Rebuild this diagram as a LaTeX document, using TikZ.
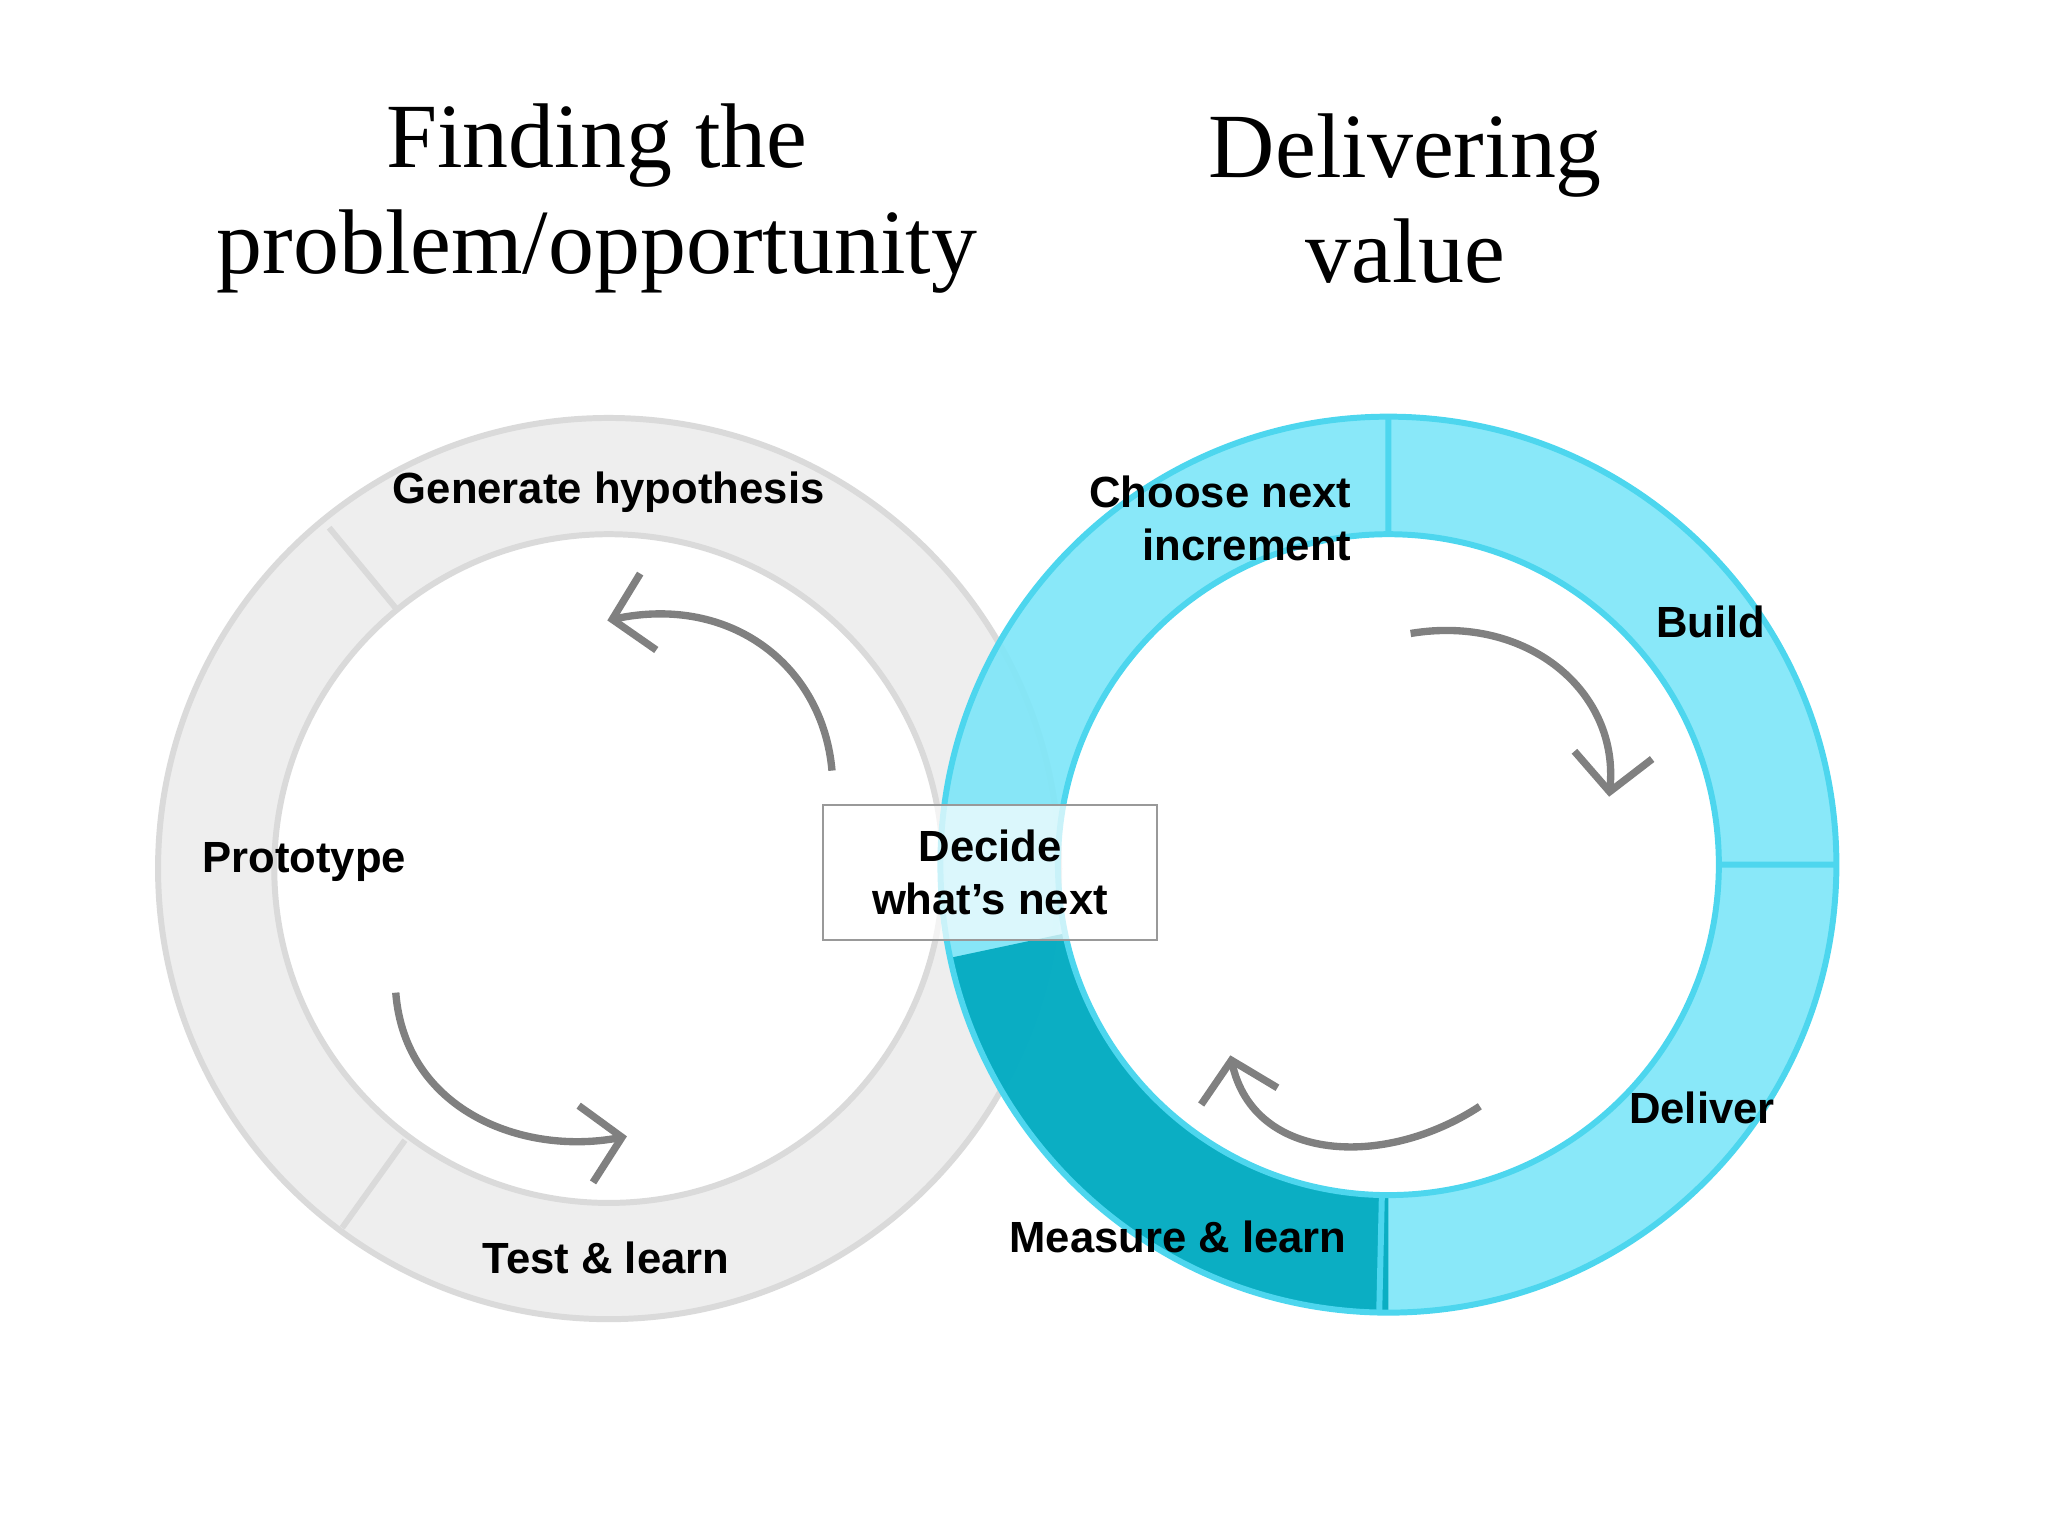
\documentclass[tikz,border=0pt]{standalone}
\usepackage{fontspec}
\setmainfont{Liberation Serif}
\newfontfamily\lab{Liberation Sans}
\usetikzlibrary{arrows.meta}
\definecolor{gfill}{HTML}{EEEEEE}
\definecolor{gline}{HTML}{DADADA}
\definecolor{cfill}{HTML}{7FE6F8}
\definecolor{cline}{HTML}{4DD6EE}
\definecolor{cdark}{HTML}{00A9BF}
\definecolor{arr}{HTML}{808080}
\begin{document}
\begin{tikzpicture}[x=0.01cm,y=-0.01cm,
  title/.style={font=\fontsize{20}{23}\selectfont, align=center},
  lbl/.style={font=\lab\bfseries\fontsize{9.5}{11.5}\selectfont, align=right},
  cyc/.style={draw=arr, line width=1.6pt, -{Straight Barb[length=8pt,width=17pt,line width=1.6pt]}}]
\useasboundingbox (0,0) rectangle (1568,1176);
% left ring
\fill[gfill, even odd rule] (466,665) circle[radius=345] (466,665) circle[radius=256];
\draw[gline, line width=1.3pt] (466,665) circle[radius=345] (466,665) circle[radius=256];
% right ring
\begin{scope}[opacity=0.92]
\fill[cfill, even odd rule] (1063,662) circle[radius=343] (1063,662) circle[radius=253];
\fill[cdark] (1063,662) ++(168:343) arc[start angle=168, end angle=90, radius=343]
  -- ++(0,-90) arc[start angle=90, end angle=168, radius=253] -- cycle;
\end{scope}
\draw[cline, line width=1.3pt] (1063,662) circle[radius=343] (1063,662) circle[radius=253];
\coordinate (t1) at (1063,319); \coordinate (t2) at (1063,409);
\coordinate (r1) at (1316,662); \coordinate (r2) at (1406,662);
\coordinate (b1) at (1058,915); \coordinate (b2) at (1056,1004);
\draw[cline, line width=1.3pt] (t1) -- (t2) (r1) -- (r2) (b1) -- (b2);
\coordinate (l1) at (252,404); \coordinate (l2) at (305,468);
\coordinate (l3) at (262,940); \coordinate (l4) at (310,873);
\draw[gline, line width=1.3pt] (l1) -- (l2) (l3) -- (l4);
% arrows
\coordinate (a1) at (637,590); \coordinate (a2) at (465,475);
\draw[cyc] (a1) .. controls (630,510) and (560,455) .. (a2);
\coordinate (b1s) at (303,760); \coordinate (b1e) at (480,870);
\draw[cyc] (b1s) .. controls (310,850) and (400,885) .. (b1e);
\coordinate (c1) at (1080,485); \coordinate (c2) at (1232,610);
\draw[cyc] (c1) .. controls (1170,470) and (1240,530) .. (c2);
\coordinate (e1) at (1133,847); \coordinate (e2) at (942,808);
\draw[cyc] (e1) .. controls (1060,895) and (960,890) .. (e2);
% box
\node[draw=gray!80, fill=white, fill opacity=0.7, text opacity=1, minimum width=2.55cm, minimum height=1.03cm, lbl, align=center] (dec) at (758,668) {Decide\\what’s next};
% titles
\node[title] (t1n) at (457,152) {Finding the\\problem/opportunity};
\node[title] (t2n) at (1076,152) {Delivering\\value};
% labels
\node[lbl] (gh) at (466,377) {Generate hypothesis};
\node[lbl] (pr) at (233,660) {Prototype};
\node[lbl] (tl) at (464,963) {Test \& learn};
\node[lbl, anchor=east] (cn) at (1047,397) {Choose next\\increment};
\node[lbl] (bu) at (1310,476) {Build};
\node[lbl] (de) at (1303,848) {Deliver};
\node[lbl] (ml) at (902,947) {Measure \& learn};
\end{tikzpicture}
\end{document}
